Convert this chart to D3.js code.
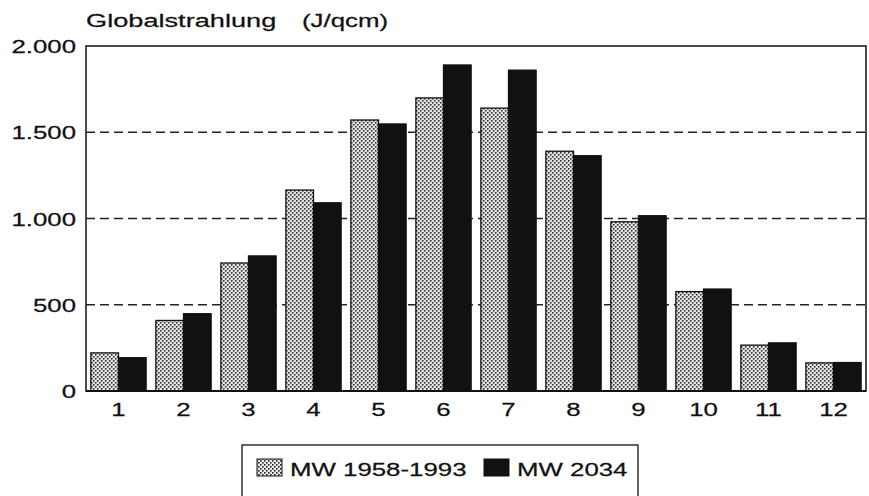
<!DOCTYPE html>
<html>
<head>
<meta charset="utf-8">
<script src="https://cdn.jsdelivr.net/npm/d3@7"></script>
<style>
  html, body { margin: 0; padding: 0; background: #fff; }
  svg { display: block; }
  text { font-family: "Liberation Sans", Arial, Helvetica, sans-serif; fill: #111; stroke: #111; stroke-width: 0.25; }
</style>
</head>
<body>
<svg id="chart" width="869" height="496"></svg>
<script>
// Monthly global radiation (J/qcm): long-term mean vs. 2034
const months = ["1", "2", "3", "4", "5", "6", "7", "8", "9", "10", "11", "12"];
const seriesNames = ["MW 1958-1993", "MW 2034"];
const mean1958_1993 = [221, 409, 742, 1165, 1571, 1699, 1640, 1390, 981, 576, 266, 163];
const mean2034 = [193, 448, 783, 1091, 1548, 1890, 1860, 1364, 1016, 591, 279, 165];
const yTicks = [0, 500, 1000, 1500, 2000];
const yTickLabels = ["0", "500", "1.000", "1.500", "2.000"];

const svg = d3.select("#chart");
const margin = { left: 86, right: 3, top: 46, bottom: 105 };
const W = 869, H = 496;
const plotW = W - margin.left - margin.right;
const plotH = H - margin.top - margin.bottom;

const FONT = 19;      // text size
const STRETCH = 1.36; // wide lettering used throughout

// Draws horizontally widened text anchored at (x, y)
function wideText(parent, x, y, str, anchor, stretch) {
  return parent.append("text")
    .attr("transform", `translate(${x},${y}) scale(${stretch || STRETCH},1)`)
    .attr("text-anchor", anchor || "start")
    .attr("font-size", FONT)
    .attr("xml:space", "preserve")
    .text(str);
}

// Stippled fill for the first series
const defs = svg.append("defs");
const pat = defs.append("pattern")
  .attr("id", "stipple")
  .attr("patternUnits", "userSpaceOnUse")
  .attr("width", 4).attr("height", 4);
pat.append("rect").attr("width", 4).attr("height", 4).attr("fill", "#ececec");
pat.append("rect").attr("x", 0).attr("y", 0).attr("width", 1.6).attr("height", 1.6).attr("fill", "#222");
pat.append("rect").attr("x", 2).attr("y", 2).attr("width", 1.6).attr("height", 1.6).attr("fill", "#222");

const fills = ["url(#stipple)", "#111"];
const series = [mean1958_1993, mean2034];

const g = svg.append("g").attr("transform", `translate(${margin.left},${margin.top})`);

const x0 = d3.scaleBand().domain(months).range([0, plotW]).paddingInner(0.15).paddingOuter(0.075);
const x1 = d3.scaleBand().domain(d3.range(series.length)).range([0, x0.bandwidth()]);
const y = d3.scaleLinear().domain([0, 2000]).range([plotH, 0]);

// Dashed reference lines
g.selectAll(".grid")
  .data(yTicks.filter(v => v > 0 && v < 2000))
  .join("line")
  .attr("x1", 0).attr("x2", plotW)
  .attr("y1", d => y(d)).attr("y2", d => y(d))
  .attr("stroke", "#222").attr("stroke-width", 1.4)
  .attr("stroke-dasharray", "9,5");

// Bars
const groups = g.selectAll(".month")
  .data(months)
  .join("g")
  .attr("transform", d => `translate(${x0(d)},0)`);

groups.selectAll("rect")
  .data((m, i) => series.map((s, k) => ({ k, v: s[i] })))
  .join("rect")
  .attr("x", d => x1(d.k))
  .attr("y", d => y(d.v))
  .attr("width", x1.bandwidth())
  .attr("height", d => plotH - y(d.v))
  .attr("fill", d => fills[d.k])
  .attr("stroke", "#111")
  .attr("stroke-width", 1.3);

// Frame around the plot
g.append("rect")
  .attr("x", 0).attr("y", 0)
  .attr("width", plotW).attr("height", plotH)
  .attr("fill", "none").attr("stroke", "#111").attr("stroke-width", 1.5);
g.append("line")
  .attr("x1", 0).attr("x2", plotW)
  .attr("y1", plotH).attr("y2", plotH)
  .attr("stroke", "#111").attr("stroke-width", 2);

// Y axis labels
const yLab = g.append("g");
yTicks.forEach((v, i) => {
  wideText(yLab, -10, y(v) + 7, yTickLabels[i], "end");
});

// X axis labels
const xLab = g.append("g");
months.forEach(m => {
  wideText(xLab, x0(m) + x0.bandwidth() / 2, plotH + 25, m, "middle");
});

// Title
wideText(svg, 86, 27, "Globalstrahlung", "start", 1.43);
wideText(svg, 302, 27, "(J/qcm)");

// Legend
const leg = svg.append("g");
leg.append("rect")
  .attr("x", 242).attr("y", 445)
  .attr("width", 396).attr("height", 60)
  .attr("fill", "#fff").attr("stroke", "#111").attr("stroke-width", 1.3);
const legX = [257, 484];
const legTextX = [290, 517];
seriesNames.forEach((name, k) => {
  leg.append("rect")
    .attr("x", legX[k]).attr("y", 459)
    .attr("width", 25).attr("height", 17)
    .attr("fill", fills[k]).attr("stroke", "#111").attr("stroke-width", 1);
  wideText(leg, legTextX[k], 476, name);
});
</script>
</body>
</html>
